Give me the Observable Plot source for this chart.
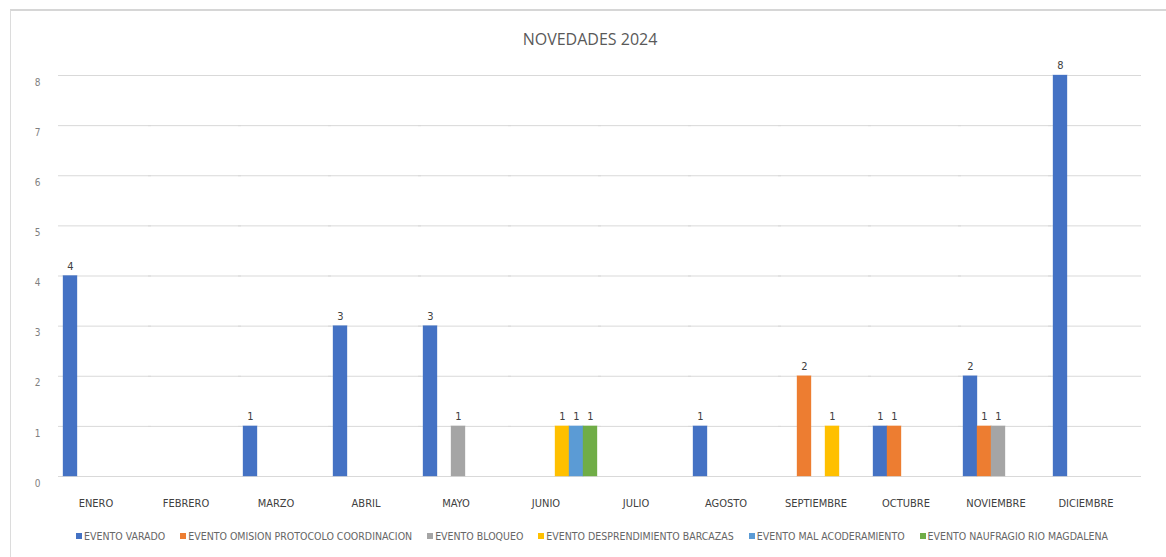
<!DOCTYPE html>
<html><head><meta charset="utf-8">
<script src="https://cdn.jsdelivr.net/npm/d3@7"></script>
<script src="https://cdn.jsdelivr.net/npm/@observablehq/plot@0.6"></script>
<style>
body{margin:0;background:#fff;font-family:"Open Sans",sans-serif;width:1166px;height:557px;overflow:hidden;position:relative;}
#frame{position:absolute;left:10px;top:9px;width:1170px;height:560px;border-left:1px solid #dcdcdc;border-top:2px solid #d6d6d6;}
#title{position:absolute;left:0;top:28px;width:1180px;text-align:center;font-size:16px;color:#595959;font-family:"Open Sans",sans-serif;}
#chart{position:absolute;left:0;top:60px;}
#legend{position:absolute;left:0;top:530px;width:1184px;display:flex;justify-content:center;gap:15px;font-size:10.5px;color:#666;font-family:"DejaVu Sans Condensed","Liberation Sans Narrow",sans-serif;}
#legend span.sw{display:inline-block;width:6px;height:6px;margin-right:2px;vertical-align:middle;position:relative;top:-1px;}
</style>
</head><body>
<div id="frame"></div>
<div id="title">NOVEDADES 2024</div>
<div id="chart"></div>
<div id="legend"></div>
<script>
const months = ["ENERO","FEBRERO","MARZO","ABRIL","MAYO","JUNIO","JULIO","AGOSTO","SEPTIEMBRE","OCTUBRE","NOVIEMBRE","DICIEMBRE"];
const series = ["EVENTO VARADO","EVENTO OMISION PROTOCOLO COORDINACION","EVENTO BLOQUEO","EVENTO DESPRENDIMIENTO BARCAZAS","EVENTO MAL ACODERAMIENTO","EVENTO NAUFRAGIO RIO MAGDALENA"];
const colors = ["#4472C4","#ED7D31","#A5A5A5","#FFC000","#5B9BD5","#70AD47"];
const varado          = [4,0,1,3,3,0,0,1,0,1,2,8];
const omision         = [0,0,0,0,0,0,0,0,2,1,1,0];
const bloqueo         = [0,0,0,0,1,0,0,0,0,0,1,0];
const desprendimiento = [0,0,0,0,0,1,0,0,1,0,0,0];
const acoderamiento   = [0,0,0,0,0,1,0,0,0,0,0,0];
const naufragio       = [0,0,0,0,0,1,0,0,0,0,0,0];
const yTicks = [0,1,2,3,4,5,6,7,8];

const seriesValues = [varado, omision, bloqueo, desprendimiento, acoderamiento, naufragio];
const rows = [];
series.forEach((s, si) => months.forEach((m, mi) => {
  const v = seriesValues[si][mi];
  if (v > 0) rows.push({month: m, series: s, value: v});
}));
const gridRows = months.flatMap(m => yTicks.map(t => ({month: m, tick: t})));

const chart = Plot.plot({
  width: 1166, height: 456,
  marginLeft: 62, marginRight: 29, marginTop: 15, marginBottom: 40,
  style: {fontFamily: '"DejaVu Sans Condensed","Liberation Sans Narrow",sans-serif', background: "transparent"},
  fx: {domain: months, paddingInner: 0.06, paddingOuter: 0, label: null},
  x: {domain: series, paddingInner: 0, paddingOuter: 0, axis: null},
  y: {domain: [0, 8], label: null},
  color: {domain: series, range: colors},
  marks: [
    Plot.ruleY(gridRows, {fx: "month", y: "tick", stroke: "#d9d9d9", strokeWidth: 1, insetLeft: -4, insetRight: -4}),
    Plot.axisY({ticks: yTicks, tickSize: 0, tickPadding: 22, dy: 7, fontSize: 10, fill: "#7f7f7f", label: null}),
    Plot.axisFx({anchor: "bottom", tickSize: 0, tickPadding: 23, dx: -9, fontSize: 11, fill: "#404040", label: null}),
    Plot.barY(rows, {fx: "month", x: "series", y: "value", fill: "series", stroke: "series", strokeOpacity: 0.35}),
    Plot.text(rows, {fx: "month", x: "series", y: "value", text: "value", dy: -10, fontSize: 11, fill: "#404040"})
  ]
});
document.getElementById("chart").appendChild(chart);

const legend = document.getElementById("legend");
series.forEach((s, i) => {
  const item = document.createElement("div");
  item.innerHTML = `<span class="sw" style="background:${colors[i]}"></span>${s}`;
  legend.appendChild(item);
});
</script>
</body></html>
